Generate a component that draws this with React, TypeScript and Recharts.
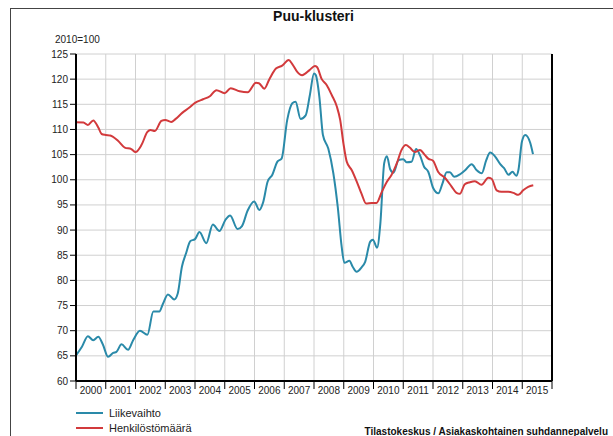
import React from "react";
import {
  LineChart,
  Line,
  XAxis,
  YAxis,
  CartesianGrid,
} from "recharts";

// Liikevaihto (turnover), 2010=100
const liikeT = [
  2000.0, 2000.2, 2000.4, 2000.58, 2000.75, 2000.9, 2001.08, 2001.25, 2001.36, 2001.53,
  2001.75, 2001.92, 2002.15, 2002.4, 2002.6, 2002.8, 2002.92, 2003.09, 2003.3, 2003.42,
  2003.56, 2003.7, 2003.84, 2004.0, 2004.15, 2004.38, 2004.6, 2004.82, 2005.02, 2005.18,
  2005.43, 2005.58, 2005.77, 2005.99, 2006.16, 2006.29, 2006.44, 2006.6, 2006.77, 2006.91,
  2007.1, 2007.27, 2007.38, 2007.55, 2007.72, 2007.86, 2008.0, 2008.06, 2008.18, 2008.3,
  2008.48, 2008.65, 2008.8, 2008.93, 2009.02, 2009.19, 2009.3, 2009.43, 2009.6, 2009.72,
  2009.89, 2009.98, 2010.12, 2010.23, 2010.36, 2010.45, 2010.56, 2010.67, 2010.84, 2011.0,
  2011.11, 2011.28, 2011.43, 2011.56, 2011.7, 2011.84, 2012.01, 2012.18, 2012.32, 2012.46,
  2012.57, 2012.71, 2012.91, 2013.08, 2013.3, 2013.47, 2013.64, 2013.79, 2013.92, 2014.09,
  2014.26, 2014.39, 2014.54, 2014.67, 2014.8, 2014.87, 2014.99, 2015.1, 2015.27, 2015.36,
];
const liikeV = [
  65.1, 66.8, 68.9, 68.1, 68.8, 67.3, 64.8, 65.6, 65.8, 67.3,
  66.2, 68.1, 70.0, 69.2, 73.8, 73.8, 75.3, 77.2, 76.2, 77.4,
  82.7, 85.4, 87.8, 88.2, 89.6, 87.4, 91.1, 89.8, 92.0, 92.9,
  90.2, 90.8, 93.9, 95.7, 94.0, 95.5, 99.6, 101.0, 103.6, 104.2,
  111.9, 115.2, 115.5, 112.1, 112.8, 116.8, 121.1, 120.8, 116.5, 108.9,
  106.2, 101.3, 94.5, 86.7, 83.5, 83.9, 82.7, 81.7, 82.6, 83.7,
  87.7, 88.1, 86.5, 91.3, 103.3, 104.7, 102.1, 101.4, 103.9, 104.1,
  103.5, 103.6, 106.1, 104.9, 102.6, 101.6, 98.3, 97.3, 99.3, 101.5,
  101.5, 100.6, 101.1, 101.9, 103.1, 101.9, 101.3, 103.9, 105.4, 104.6,
  103.1, 102.3, 101.0, 101.6, 100.8, 101.9, 107.6, 108.9, 107.3, 105.1,
];

// Henkilöstömäärä (personnel), 2010=100
const henkiT = [
  2000.0, 2000.25, 2000.4, 2000.58, 2000.75, 2000.86, 2001.0, 2001.15, 2001.42, 2001.64,
  2001.86, 2002.0, 2002.2, 2002.4, 2002.5, 2002.65, 2002.87, 2003.0, 2003.2, 2003.35,
  2003.57, 2003.8, 2004.0, 2004.27, 2004.5, 2004.72, 2005.0, 2005.2, 2005.5, 2005.77,
  2006.05, 2006.15, 2006.33, 2006.5, 2006.72, 2006.93, 2007.15, 2007.27, 2007.43, 2007.6,
  2007.85, 2008.03, 2008.1, 2008.26, 2008.43, 2008.6, 2008.77, 2008.88, 2008.99, 2009.1,
  2009.27, 2009.44, 2009.6, 2009.75, 2009.94, 2010.1, 2010.28, 2010.45, 2010.6, 2010.78,
  2010.94, 2011.09, 2011.22, 2011.39, 2011.56, 2011.73, 2011.84, 2012.0, 2012.17, 2012.4,
  2012.62, 2012.79, 2012.9, 2013.07, 2013.24, 2013.41, 2013.63, 2013.86, 2013.97, 2014.14,
  2014.3, 2014.53, 2014.7, 2014.87, 2015.03, 2015.2, 2015.37,
];
const henkiV = [
  111.45, 111.4, 110.9, 111.8, 110.4, 109.1, 108.9, 108.8, 107.7, 106.4,
  106.1, 105.5, 106.9, 109.5, 109.9, 109.7, 111.7, 111.9, 111.5, 112.1,
  113.3, 114.3, 115.3, 116.0, 116.6, 117.8, 117.2, 118.2, 117.6, 117.4,
  119.3, 119.2, 118.1, 120.0, 122.1, 122.7, 123.8, 123.0, 121.5, 120.8,
  121.8, 122.6, 122.4, 120.0, 118.8, 116.8, 114.5, 111.9, 107.2, 103.6,
  101.9, 99.6, 97.2, 95.3, 95.4, 95.4, 97.6, 99.6, 100.9, 103.2,
  105.9, 106.9, 106.4, 105.5, 105.9, 104.9, 104.2, 103.8, 101.6, 100.4,
  98.7, 97.4, 97.2, 99.1, 99.5, 99.7, 99.0, 100.4, 100.2, 97.9,
  97.6, 97.6, 97.4, 97.0, 97.9, 98.6, 98.9,
];

const yearTicks = [
  2000, 2001, 2002, 2003, 2004, 2005, 2006, 2007, 2008, 2009, 2010, 2011, 2012, 2013,
  2014, 2015, 2016,
];
const valueTicks = [60, 65, 70, 75, 80, 85, 90, 95, 100, 105, 110, 115, 120, 125];

const liikeData = liikeT.map((t, i) => ({ t, v: liikeV[i] }));
const henkiData = henkiT.map((t, i) => ({ t, v: henkiV[i] }));

const BLUE = "#2a8aa9";
const RED = "#d23a3c";
const FONT = "'Liberation Sans', Arial, Helvetica, sans-serif";

const W = 613;
const H = 436;
const HALF_YEAR_PX = 476 / 16 / 2;

function YearTick(props: any) {
  const { x, y, payload } = props;
  if (payload.value >= 2016) return null;
  return (
    <text
      x={x + HALF_YEAR_PX}
      y={y - 2}
      dy="0.71em"
      textAnchor="middle"
      fontSize={10}
      fill="#222"
      fontFamily={FONT}
    >
      {payload.value}
    </text>
  );
}

export default function App() {
  const tick = { fontSize: 10, fill: "#222", fontFamily: FONT };
  return (
    <div
      style={{
        position: "fixed",
        left: 0,
        top: 0,
        width: W,
        height: H,
        overflow: "hidden",
        background: "#fff",
        fontFamily: FONT,
      }}
    >
      <div
        style={{
          position: "absolute",
          left: 10,
          top: 8,
          width: 660,
          height: 480,
          border: "1px solid #444",
        }}
      />
      <div
        style={{
          position: "absolute",
          left: 0,
          width: 627,
          top: 8,
          textAlign: "center",
          fontWeight: "bold",
          fontSize: 14,
          color: "#111",
        }}
      >
        Puu-klusteri
      </div>
      <div style={{ position: "absolute", left: 55, top: 34, fontSize: 10, color: "#222" }}>
        2010=100
      </div>
      <div style={{ position: "absolute", left: 0, top: 0 }}>
        <LineChart
          width={W}
          height={H}
          margin={{ top: 54, right: 0, left: 0, bottom: 0 }}
        >
          <CartesianGrid yAxisId="left" stroke="#d0d0d0" strokeWidth={1} />
          <XAxis
            dataKey="t"
            type="number"
            domain={[2000, 2016]}
            ticks={yearTicks}
            interval={0}
            height={55}
            axisLine={{ stroke: "#000", strokeWidth: 2 }}
            tickLine={{ stroke: "#000" }}
            tickSize={8}
            tickMargin={0}
            tick={<YearTick />}
            allowDuplicatedCategory={false}
          />
          <YAxis
            yAxisId="left"
            orientation="left"
            width={76}
            domain={[60, 125]}
            ticks={valueTicks}
            interval={0}
            axisLine={{ stroke: "#000", strokeWidth: 2 }}
            tickLine={{ stroke: "#000" }}
            tickSize={6}
            tickMargin={2}
            tick={tick}
          />
          <YAxis
            yAxisId="right"
            orientation="right"
            width={61}
            domain={[60, 125]}
            ticks={valueTicks}
            interval={0}
            axisLine={{ stroke: "#000", strokeWidth: 2 }}
            tickLine={{ stroke: "#000" }}
            tickSize={6}
            tickMargin={2}
            tick={tick}
          />
          <Line
            yAxisId="left"
            data={liikeData}
            dataKey="v"
            type="monotone"
            stroke={BLUE}
            strokeWidth={2}
            dot={false}
            isAnimationActive={false}
          />
          <Line
            yAxisId="left"
            data={henkiData}
            dataKey="v"
            type="monotone"
            stroke={RED}
            strokeWidth={2}
            dot={false}
            isAnimationActive={false}
          />
        </LineChart>
      </div>
      <div style={{ position: "absolute", left: 76, top: 405, fontSize: 11, color: "#222" }}>
        <div style={{ display: "flex", alignItems: "center", height: 15 }}>
          <span style={{ width: 27, height: 2, background: BLUE, marginRight: 6 }} />
          Liikevaihto
        </div>
        <div style={{ display: "flex", alignItems: "center", height: 15 }}>
          <span style={{ width: 27, height: 2, background: RED, marginRight: 6 }} />
          Henkilöstömäärä
        </div>
      </div>
      <div
        style={{
          position: "absolute",
          right: 5,
          top: 426,
          fontSize: 10,
          fontWeight: "bold",
          color: "#111",
        }}
      >
        Tilastokeskus / Asiakaskohtainen suhdannepalvelu
      </div>
    </div>
  );
}
